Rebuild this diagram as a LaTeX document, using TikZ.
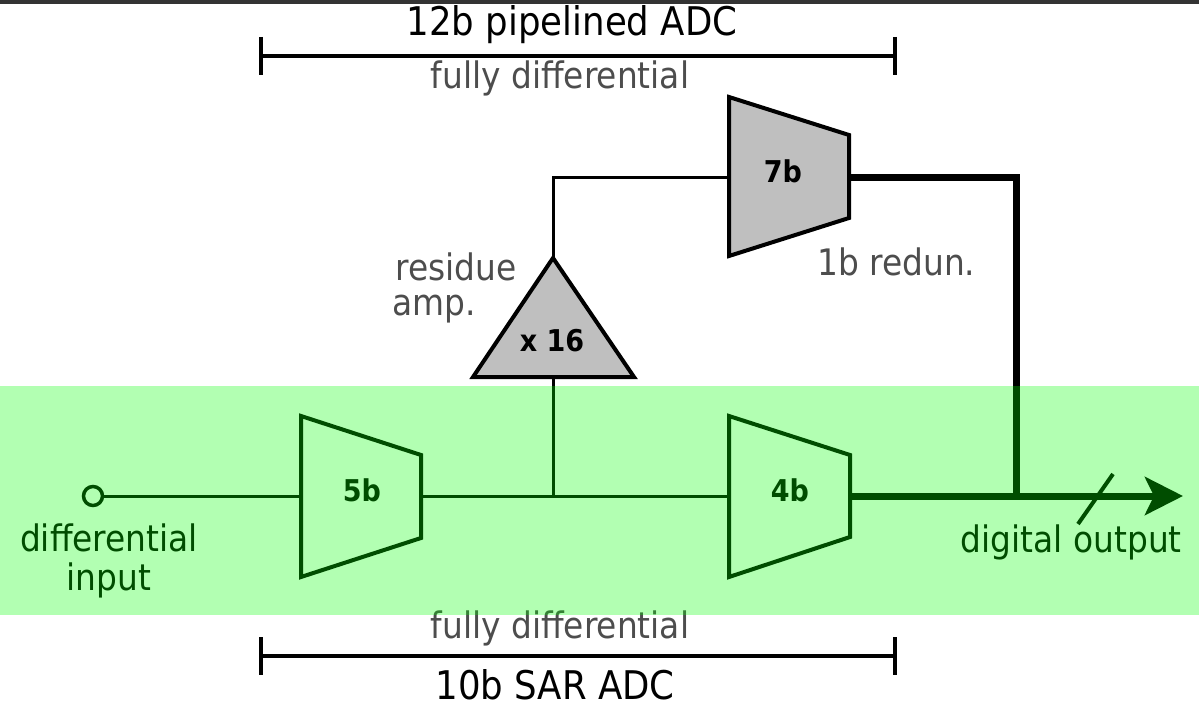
\documentclass[tikz,border=0pt]{standalone}
\usepackage{fontspec}
\setmainfont{DejaVu Sans}[FakeStretch=0.9]
\usetikzlibrary{arrows.meta}
\definecolor{txtgray}{HTML}{4D4D4D}
\definecolor{shapegray}{HTML}{BFBFBF}
\definecolor{topbar}{HTML}{333333}
\begin{document}
\begin{tikzpicture}[x=1pt,y=-1pt,
  title/.style={font=\fontsize{39.5}{44}\selectfont, anchor=base, inner sep=0},
  lbl/.style={font=\fontsize{36.5}{40}\selectfont, anchor=base, text=txtgray, inner sep=0},
  blk/.style={font=\bfseries\fontsize{30}{33}\selectfont, anchor=base, inner sep=0},
  conv/.style={draw=black, line width=4pt, line join=miter},
  wire/.style={line width=3pt},
  bus/.style={line width=7pt},
  bracket/.style={line width=3.5pt}]
\useasboundingbox (0,0) rectangle (1199,706);
\fill[topbar] (0,0) rectangle (1199,4);

% brackets
\draw[bracket] (261,56) -- (895,56);
\draw[bracket] (261,37) -- (261,75);
\draw[bracket] (895,37) -- (895,75);
\draw[bracket] (261,656) -- (895,656);
\draw[bracket] (261,637) -- (261,675);
\draw[bracket] (895,637) -- (895,675);

% converters
\draw[conv, fill=white] (301,416) -- (421,455) -- (421,538) -- (301,577) -- cycle;
\draw[conv, fill=white] (729,416) -- (850,455) -- (850,537) -- (729,577) -- cycle;
\draw[conv, fill=shapegray] (729,97) -- (849,135) -- (849,218) -- (729,256) -- cycle;
\draw[conv, fill=shapegray] (553,258) -- (634,377) -- (473,377) -- cycle;

\coordinate (a5in) at (301,496);
\coordinate (a5out) at (421,496);
\coordinate (a4in) at (729,496);
\coordinate (a4out) at (850,496);
\coordinate (a7in) at (729,177);
\coordinate (a7out) at (849,177);
\coordinate (ampin) at (553,377);
\coordinate (ampout) at (553,258);
\coordinate (tap) at (553,496);
\coordinate (join) at (1016,496);
\coordinate (outend) at (1183,496);
\coordinate (sl1) at (1078,524);
\coordinate (sl2) at (1113,474);

\node[blk] (t5b) at (362,501) {5b};
\node[blk] (t4b) at (790,501) {4b};
\node[blk] (t7b) at (783,182) {7b};
\node[blk] (tamp) at (552,351) {x 16};

% input
\node[circle, draw, line width=3.5pt, minimum size=19pt, inner sep=0, fill=white] (inp) at (93,496) {};

% connectors
\draw[wire] (inp.east) -- (a5in);
\draw[wire] (a5out) -- (a4in);
\draw[wire] (tap) -- (ampin);
\draw[wire] (ampout) |- (a7in);
\draw[bus] (a7out) -| (join);
\draw[bus, -{Stealth[length=38pt,width=38pt,inset=9pt]}] (a4out) -- (outend);
\draw[line width=4pt] (sl1) -- (sl2);

% labels
\node[title] (ttop) at (572,36) {12b pipelined ADC};
\node[lbl] (fdtop) at (560,89) {fully differential};
\node[lbl, anchor=base west] (res1) at (395,280) {residue};
\node[lbl, anchor=base west] (res2) at (392,315) {amp.};
\node[lbl, anchor=base west] (redun) at (817,275) {1b redun.};
\node[lbl, text=black] (din1) at (109,551) {differential};
\node[lbl, text=black] (din2) at (109,590) {input};
\node[lbl, text=black, anchor=base east] (dout) at (1182,552) {digital output};
\node[lbl] (fdbot) at (560,638) {fully differential};
\node[title] (tbot) at (555,699) {10b SAR ADC};

% SAR band overlay
\fill[green, opacity=0.3] (0,386) rectangle (1199,615);
\end{tikzpicture}
\end{document}
